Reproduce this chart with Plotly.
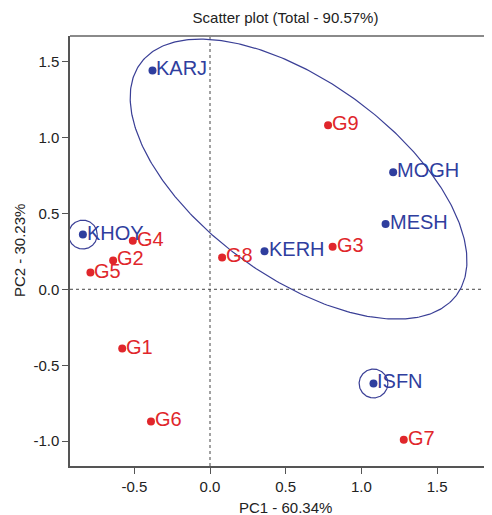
import numpy as np
import plotly.graph_objects as go

# ---- data ----
env_names = ["KARJ", "MOGH", "MESH", "KERH", "KHOY", "ISFN"]
env_pc1 = [-0.38, 1.21, 1.16, 0.36, -0.84, 1.08]
env_pc2 = [1.44, 0.77, 0.43, 0.25, 0.36, -0.62]

gen_names = ["G1", "G2", "G3", "G4", "G5", "G6", "G7", "G8", "G9"]
gen_pc1 = [-0.58, -0.64, 0.81, -0.51, -0.79, -0.39, 1.28, 0.08, 0.78]
gen_pc2 = [-0.39, 0.19, 0.28, 0.32, 0.11, -0.87, -0.99, 0.21, 1.08]

# ellipse parameters (center, semi-axes, rotation in degrees)
ell_center = (0.585, 0.725)
ell_axes = (1.293, 0.644)
ell_angle = -36.0
circled = ["KHOY", "ISFN"]
circle_r = 0.095

title_text = "Scatter plot (Total - 90.57%)"
x_title = "PC1 - 60.34%"
y_title = "PC2 - 30.23%"
x_ticks = [-0.5, 0.0, 0.5, 1.0, 1.5]
y_ticks = [-1.0, -0.5, 0.0, 0.5, 1.0, 1.5]

BLUE = "#2f3e9e"
RED = "#e0262b"
ELL = "#3a3f96"
FONT = "Liberation Sans, Arial, sans-serif"

# page body has an 8px margin; size the figure so it fills the window
W, H = 484, 507

fig = go.Figure()

# ellipse
t = np.linspace(0, 2 * np.pi, 400)
th = np.deg2rad(ell_angle)
ex = ell_center[0] + ell_axes[0] * np.cos(t) * np.cos(th) - ell_axes[1] * np.sin(t) * np.sin(th)
ey = ell_center[1] + ell_axes[0] * np.cos(t) * np.sin(th) + ell_axes[1] * np.sin(t) * np.cos(th)
fig.add_trace(go.Scatter(x=ex, y=ey, mode="lines", line=dict(color=ELL, width=1.2),
                         hoverinfo="skip", showlegend=False))

# circles around single points
for name in circled:
    i = env_names.index(name)
    cx, cy = env_pc1[i], env_pc2[i]
    fig.add_trace(go.Scatter(x=cx + circle_r * np.cos(t), y=cy + circle_r * np.sin(t),
                             mode="lines", line=dict(color=ELL, width=1.2),
                             hoverinfo="skip", showlegend=False))

fig.add_trace(go.Scatter(x=gen_pc1, y=gen_pc2, mode="markers",
                         marker=dict(color=RED, size=8), showlegend=False))
fig.add_trace(go.Scatter(x=env_pc1, y=env_pc2, mode="markers",
                         marker=dict(color=BLUE, size=8), showlegend=False))

annotations = []
for names, xs, ys, col in [(gen_names, gen_pc1, gen_pc2, RED), (env_names, env_pc1, env_pc2, BLUE)]:
    for n, x, y in zip(names, xs, ys):
        annotations.append(dict(text=n, x=x, y=y, xref="x", yref="y", xanchor="left",
                                yanchor="middle", xshift=2, yshift=2, showarrow=False,
                                font=dict(size=20, color=col, family=FONT)))

# zero lines
fig.add_shape(type="line", xref="x", yref="paper", x0=0, x1=0, y0=0, y1=1,
              line=dict(color="#444", width=1, dash="dot"), layer="below")
fig.add_shape(type="line", xref="paper", yref="y", x0=0, x1=1, y0=0, y1=0,
              line=dict(color="#444", width=1, dash="dot"), layer="below")
# top border
fig.add_shape(type="line", xref="paper", yref="paper", x0=0, x1=1, y0=1, y1=1,
              line=dict(color="#8a8a8a", width=2))

annotations += [
    dict(text=x_title, xref="paper", yref="paper", x=(285 - 70) / 422, y=0,
         yshift=-41, xanchor="center", yanchor="middle", showarrow=False,
         font=dict(size=15, color="#222", family=FONT)),
    dict(text=y_title, xref="paper", yref="paper", x=0, y=0.5, xshift=-51,
         textangle=-90, xanchor="center", yanchor="middle", showarrow=False,
         font=dict(size=15, color="#222", family=FONT)),
]

fig.update_layout(
    width=W, height=H,
    margin=dict(l=62, r=0, t=28, b=49),
    paper_bgcolor="white", plot_bgcolor="white",
    font=dict(family=FONT, color="#222"),
    title=dict(text=title_text, font=dict(size=15, color="#222", family=FONT),
               xref="container", yref="container", x=(285.5 - 8) / W, y=1 - 10 / H,
               xanchor="center", yanchor="middle"),
    xaxis=dict(range=[-0.925, 1.863], tickvals=x_ticks, ticktext=[f"{v:.1f}" for v in x_ticks],
               showgrid=False, zeroline=False, showline=True, linecolor="#555", linewidth=1.5,
               ticks="outside", ticklen=6, tickcolor="#555",
               tickfont=dict(size=15, color="#222", family=FONT)),
    yaxis=dict(range=[-1.163, 1.667], tickvals=y_ticks, ticktext=[f"{v:.1f}" for v in y_ticks],
               showgrid=False, zeroline=False, showline=True, linecolor="#555", linewidth=1.5,
               ticks="outside", ticklen=6, tickcolor="#555",
               tickfont=dict(size=15, color="#222", family=FONT)),
    annotations=annotations,
)

fig.write_html("out.html")
